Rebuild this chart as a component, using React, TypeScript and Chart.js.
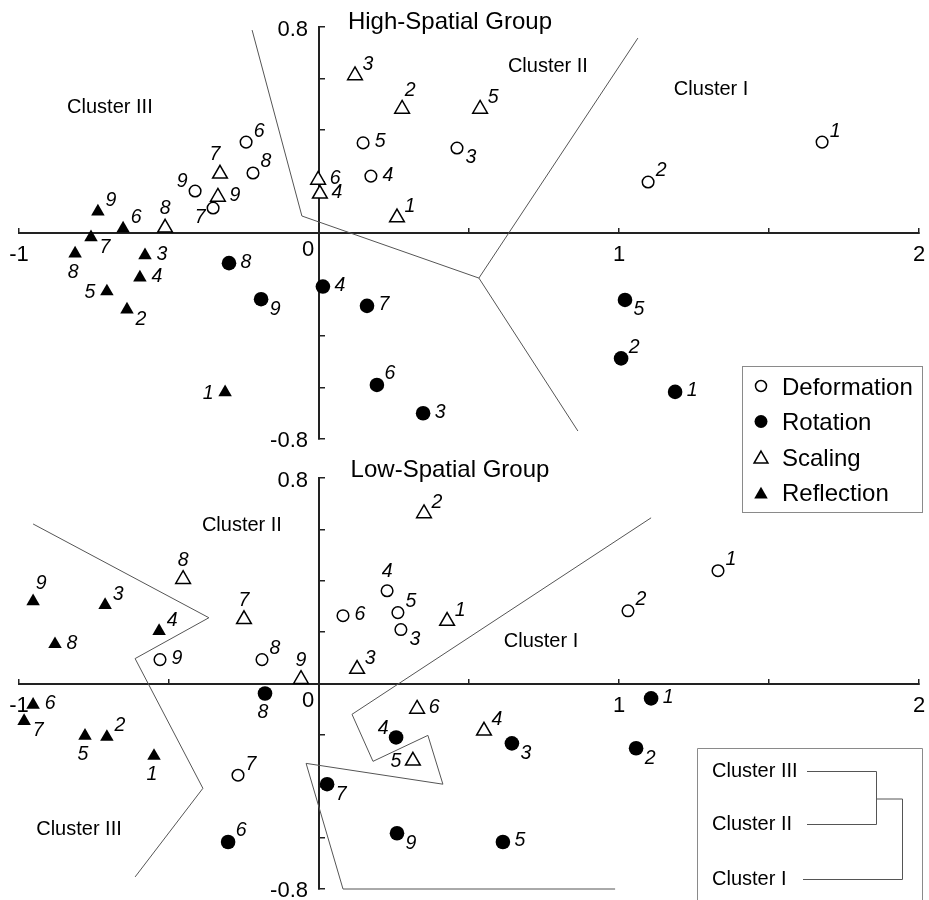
import React, { useEffect, useRef } from 'react';
import { Chart, registerables } from 'chart.js';
import { drawPoint } from 'chart.js/helpers';

Chart.register(...registerables);

const FONT = '"Liberation Sans", Arial, Helvetica, sans-serif';
Chart.defaults.font.family = FONT;

// ---------- axes ----------
const X_MIN = -1;
const X_MAX = 2;
const Y_MIN = -0.8;
const Y_MAX = 0.8;
const X_LABEL_VALUES = [-1, 0, 1, 2];
const Y_LABEL_VALUES = [-0.8, 0.8];

const SERIES_NAMES = ['Deformation', 'Rotation', 'Scaling', 'Reflection'];

// ---------- High-Spatial Group ----------
const hsDefX = [1.677, 1.097, 0.46, 0.173, 0.147, -0.243, -0.353, -0.22, -0.413];
const hsDefY = [0.353, 0.198, 0.33, 0.221, 0.35, 0.353, 0.097, 0.233, 0.163];
const hsRotX = [1.187, 1.007, 0.347, 0.013, 1.02, 0.193, 0.16, -0.3, -0.193];
const hsRotY = [-0.617, -0.487, -0.7, -0.208, -0.26, -0.59, -0.283, -0.117, -0.257];
const hsScaX = [0.26, 0.277, 0.12, 0.003, 0.537, -0.003, -0.33, -0.513, -0.337];
const hsScaY = [0.06, 0.482, 0.612, 0.152, 0.482, 0.206, 0.23, 0.02, 0.14];
const hsRefX = [-0.313, -0.64, -0.58, -0.597, -0.707, -0.653, -0.76, -0.813, -0.737];
const hsRefY = [-0.619, -0.297, -0.087, -0.173, -0.227, 0.017, -0.017, -0.08, 0.083];

const hsDefLbl = ['NE', 'NE', 'SE', 'E', 'E', 'NE', 'SW', 'NE', 'NW'];
const hsRotLbl = ['E', 'NE', 'E', 'E', 'SE', 'NE', 'E', 'E', 'SE'];
const hsScaLbl = ['NE', 'NNE', 'NE', 'E', 'NE', 'E', 'NNW', 'N', 'E'];
const hsRefLbl = ['W', 'SE', 'E', 'E', 'W', 'NE', 'SE', 'S', 'NE'];

const hsBoundAX = [-0.223, -0.057, 0.533, 1.063];
const hsBoundAY = [0.788, 0.066, -0.175, 0.757];
const hsBoundBX = [0.533, 0.863];
const hsBoundBY = [-0.175, -0.769];

const hsClusterNames = ['Cluster III', 'Cluster II', 'Cluster I'];
const hsClusterX = [-0.697, 0.763, 1.307];
const hsClusterY = [0.489, 0.645, 0.557];

// ---------- Low-Spatial Group ----------
const lsDefX = [1.33, 1.03, 0.273, 0.227, 0.263, 0.08, -0.27, -0.19, -0.53];
const lsDefY = [0.439, 0.283, 0.21, 0.361, 0.276, 0.264, -0.357, 0.093, 0.093];
const lsRotX = [1.107, 1.057, 0.643, 0.257, 0.613, -0.303, 0.027, -0.18, 0.26];
const lsRotY = [-0.058, -0.252, -0.233, -0.21, -0.617, -0.617, -0.392, -0.039, -0.583];
const lsScaX = [0.427, 0.35, 0.127, 0.55, 0.313, 0.327, -0.25, -0.453, -0.06];
const lsScaY = [0.243, 0.662, 0.056, -0.184, -0.301, -0.099, 0.25, 0.406, 0.017];
const lsRefX = [-0.55, -0.707, -0.713, -0.533, -0.78, -0.953, -0.983, -0.88, -0.953];
const lsRefY = [-0.282, -0.208, 0.305, 0.204, -0.204, -0.083, -0.146, 0.153, 0.32];

const lsDefLbl = ['NE', 'NE', 'SE', 'N', 'NE', 'E', 'NE', 'NE', 'E'];
const lsRotLbl = ['E', 'SE', 'SE', 'NW', 'E', 'NE', 'SE', 'S', 'SE'];
const lsScaLbl = ['NE', 'NE', 'NE', 'NE', 'W', 'E', 'N', 'N', 'N'];
const lsRefLbl = ['S', 'NE', 'NE', 'NE', 'S', 'E', 'SE', 'E', 'NNE'];

const lsBoundAX = [-0.953, -0.367, -0.613, -0.387, -0.613];
const lsBoundAY = [0.621, 0.256, 0.097, -0.408, -0.753];
const lsBoundBX = [1.107, 0.11, 0.18, 0.363, 0.413, -0.043, 0.08, 0.987];
const lsBoundBY = [0.645, -0.12, -0.303, -0.202, -0.392, -0.311, -0.8, -0.8];

const lsClusterNames = ['Cluster II', 'Cluster I', 'Cluster III'];
const lsClusterX = [-0.257, 0.74, -0.8];
const lsClusterY = [0.617, 0.163, -0.567];

// dendrogram inset
const dendroNames = ['Cluster III', 'Cluster II', 'Cluster I'];

// ---------- styles ----------
const SERIES_STYLE = [
  { pointStyle: 'circle', radius: 5.8, fill: '#ffffff', border: 1.5 },
  { pointStyle: 'circle', radius: 7.3, fill: '#000000', border: 0 },
  { pointStyle: 'triangle', radius: 8.5, fill: '#ffffff', border: 1.5 },
  { pointStyle: 'triangle', radius: 7.8, fill: '#000000', border: 0 },
];
const LEGEND_RADIUS = [5.5, 6.5, 8, 7.8];

const OFFSETS: Record<string, [number, number]> = {
  N: [0, -19],
  NNE: [8, -18],
  NNW: [-5, -19],
  NE: [13, -11],
  E: [17, -1],
  SE: [14, 10],
  S: [-2, 19],
  SW: [-13, 10],
  W: [-17, 1],
  NW: [-13, -9],
};

const zip = (xs: number[], ys: number[]) => xs.map((x, i) => ({ x, y: ys[i] }));

function markerDatasets(xs: number[][], ys: number[][], lbls: string[][]) {
  return SERIES_NAMES.map((name, i) => {
    const s = SERIES_STYLE[i];
    return {
      label: name,
      data: zip(xs[i], ys[i]),
      pointStyle: s.pointStyle,
      pointRadius: s.radius,
      pointHoverRadius: s.radius,
      pointBackgroundColor: s.fill,
      pointBorderColor: '#000000',
      pointBorderWidth: s.border,
      showLine: false,
      clip: false,
      labelCodes: lbls[i],
    } as any;
  });
}

function boundaryDataset(xs: number[], ys: number[]) {
  return {
    label: 'boundary',
    data: zip(xs, ys),
    showLine: true,
    pointRadius: 0,
    borderColor: '#555555',
    borderWidth: 1,
    fill: false,
    clip: false,
  } as any;
}

const pointNumberPlugin = {
  id: 'pointNumbers',
  afterDatasetsDraw(chart: any) {
    const ctx = chart.ctx;
    ctx.save();
    ctx.font = `italic 19.5px ${FONT}`;
    ctx.fillStyle = '#000';
    ctx.textAlign = 'center';
    ctx.textBaseline = 'middle';
    chart.data.datasets.forEach((ds: any, i: number) => {
      const codes = ds.labelCodes;
      if (!codes) return;
      const meta = chart.getDatasetMeta(i);
      meta.data.forEach((el: any, j: number) => {
        const off = OFFSETS[codes[j]] || [14, -10];
        ctx.fillText(String(j + 1), el.x + off[0], el.y + off[1]);
      });
    });
    ctx.restore();
  },
};

function axisLabels(chart: any) {
  const ctx = chart.ctx;
  const xs = chart.scales.x;
  const ys = chart.scales.y;
  const x0 = xs.getPixelForValue(0);
  const y0 = ys.getPixelForValue(0);
  ctx.save();
  ctx.fillStyle = '#000';
  ctx.font = `22px ${FONT}`;
  ctx.textBaseline = 'alphabetic';
  X_LABEL_VALUES.forEach((v) => {
    ctx.textAlign = 'center';
    if (v === 0) {
      ctx.fillText('0', x0 - 11, y0 + 23);
    } else {
      ctx.fillText(String(v), xs.getPixelForValue(v), y0 + 28);
    }
  });
  ctx.textAlign = 'right';
  Y_LABEL_VALUES.forEach((v) => {
    ctx.fillText(String(v), x0 - 11, ys.getPixelForValue(v) + (v > 0 ? 9 : 8));
  });
  ctx.restore();
}

function clusterLabels(chart: any, names: string[], cx: number[], cy: number[]) {
  const ctx = chart.ctx;
  ctx.save();
  ctx.fillStyle = '#000';
  ctx.font = `20px ${FONT}`;
  ctx.textAlign = 'center';
  ctx.textBaseline = 'middle';
  names.forEach((n, i) => {
    ctx.fillText(n, chart.scales.x.getPixelForValue(cx[i]), chart.scales.y.getPixelForValue(cy[i]));
  });
  ctx.restore();
}

function drawTitle(chart: any, text: string, baseline: number) {
  const ctx = chart.ctx;
  ctx.save();
  ctx.fillStyle = '#000';
  ctx.font = `24px ${FONT}`;
  ctx.textAlign = 'center';
  ctx.textBaseline = 'alphabetic';
  ctx.fillText(text, 450, baseline);
  ctx.restore();
}

function drawLegend(chart: any) {
  const ctx = chart.ctx;
  const left = 742, top = 366, w = 180, h = 146;
  ctx.save();
  ctx.fillStyle = '#ffffff';
  ctx.fillRect(left, top, w, h);
  ctx.strokeStyle = '#8a8a8a';
  ctx.lineWidth = 1;
  ctx.strokeRect(left + 0.5, top + 0.5, w, h);
  ctx.font = `24px ${FONT}`;
  ctx.textAlign = 'left';
  ctx.textBaseline = 'alphabetic';
  SERIES_NAMES.forEach((name, i) => {
    const cy = top + 20 + i * 35.5;
    const s = SERIES_STYLE[i];
    ctx.fillStyle = s.fill;
    ctx.strokeStyle = '#000';
    ctx.lineWidth = s.border;
    drawPoint(ctx, { pointStyle: s.pointStyle as any, radius: LEGEND_RADIUS[i], borderWidth: s.border, rotation: 0 } as any, left + 19, cy + (s.pointStyle === 'triangle' ? 2 : 0));
    ctx.fillStyle = '#000';
    ctx.fillText(name, left + 40, cy + 8.5);
  });
  ctx.restore();
}

function drawDendrogram(chart: any) {
  const ctx = chart.ctx;
  const left = 697, top = 298, right = 922, bottom = 460;
  ctx.save();
  ctx.strokeStyle = '#8a8a8a';
  ctx.lineWidth = 1;
  ctx.beginPath();
  ctx.moveTo(left + 0.5, bottom);
  ctx.lineTo(left + 0.5, top + 0.5);
  ctx.lineTo(right + 0.5, top + 0.5);
  ctx.lineTo(right + 0.5, bottom);
  ctx.stroke();

  ctx.font = `20px ${FONT}`;
  ctx.fillStyle = '#000';
  ctx.textAlign = 'left';
  ctx.textBaseline = 'middle';
  const rowY = [321, 374, 429];
  dendroNames.forEach((n, i) => ctx.fillText(n, 712, rowY[i]));

  ctx.strokeStyle = '#555555';
  ctx.beginPath();
  ctx.moveTo(807, rowY[0] + 0.5);
  ctx.lineTo(876.5, rowY[0] + 0.5);
  ctx.lineTo(876.5, rowY[1] + 0.5);
  ctx.lineTo(807, rowY[1] + 0.5);
  const mid = (rowY[0] + rowY[1]) / 2 + 1;
  ctx.moveTo(876.5, mid + 0.5);
  ctx.lineTo(902.5, mid + 0.5);
  ctx.lineTo(902.5, rowY[2] + 0.5);
  ctx.lineTo(803, rowY[2] + 0.5);
  ctx.stroke();
  ctx.restore();
}

function scaleOptions() {
  const common = {
    type: 'linear' as const,
    grid: {
      display: true,
      drawOnChartArea: false,
      drawTicks: true,
      color: '#222222',
      lineWidth: 1.5,
    },
    border: { display: true, color: '#222222', width: 2 },
  };
  return {
    x: {
      ...common,
      min: X_MIN,
      max: X_MAX,
      position: { y: 0 },
      ticks: { display: false, stepSize: 0.5 },
      grid: { ...common.grid, tickLength: -6 },
    },
    y: {
      ...common,
      min: Y_MIN,
      max: Y_MAX,
      position: { x: 0 },
      ticks: { display: false, stepSize: 0.2 },
      grid: { ...common.grid, tickLength: -7 },
    },
  };
}

function buildConfig(
  datasets: any[],
  padding: { left: number; right: number; top: number; bottom: number },
  decor: (chart: any) => void
): any {
  return {
    type: 'scatter',
    data: { datasets },
    options: {
      responsive: false,
      animation: false,
      events: [],
      layout: { padding },
      scales: scaleOptions(),
      plugins: {
        legend: { display: false },
        tooltip: { enabled: false },
        title: { display: false },
      },
    },
    plugins: [
      pointNumberPlugin,
      {
        id: 'decor',
        afterDraw(chart: any) {
          decor(chart);
        },
      },
    ],
  };
}

export default function App() {
  const topRef = useRef<HTMLCanvasElement>(null);
  const botRef = useRef<HTMLCanvasElement>(null);

  useEffect(() => {
    document.body.style.margin = '0';
    const topDatasets = [
      ...markerDatasets(
        [hsDefX, hsRotX, hsScaX, hsRefX],
        [hsDefY, hsRotY, hsScaY, hsRefY],
        [hsDefLbl, hsRotLbl, hsScaLbl, hsRefLbl]
      ),
      boundaryDataset(hsBoundAX, hsBoundAY),
      boundaryDataset(hsBoundBX, hsBoundBY),
    ];
    const botDatasets = [
      ...markerDatasets(
        [lsDefX, lsRotX, lsScaX, lsRefX],
        [lsDefY, lsRotY, lsScaY, lsRefY],
        [lsDefLbl, lsRotLbl, lsScaLbl, lsRefLbl]
      ),
      boundaryDataset(lsBoundAX, lsBoundAY),
      boundaryDataset(lsBoundBX, lsBoundBY),
    ];

    const bottom = new Chart(
      botRef.current as HTMLCanvasElement,
      buildConfig(botDatasets, { left: 19, right: 10, top: 28, bottom: 11 }, (chart) => {
        axisLabels(chart);
        clusterLabels(chart, lsClusterNames, lsClusterX, lsClusterY);
        drawTitle(chart, 'Low-Spatial Group', 27);
        drawDendrogram(chart);
      })
    );
    const top = new Chart(
      topRef.current as HTMLCanvasElement,
      buildConfig(topDatasets, { left: 19, right: 10, top: 27, bottom: 81 }, (chart) => {
        axisLabels(chart);
        clusterLabels(chart, hsClusterNames, hsClusterX, hsClusterY);
        drawTitle(chart, 'High-Spatial Group', 29);
        drawLegend(chart);
      })
    );
    return () => {
      top.destroy();
      bottom.destroy();
    };
  }, []);

  return (
    <div style={{ position: 'relative', width: 929, height: 900, background: '#ffffff', overflow: 'hidden' }}>
      <canvas ref={botRef} width={929} height={450} style={{ position: 'absolute', left: 0, top: 450 }} />
      <canvas ref={topRef} width={929} height={520} style={{ position: 'absolute', left: 0, top: 0 }} />
    </div>
  );
}
